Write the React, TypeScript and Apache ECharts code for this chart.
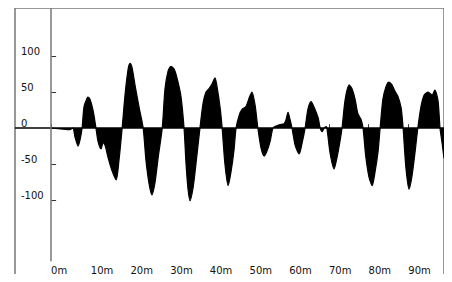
import React, { useEffect, useRef } from "react";
import * as echarts from "echarts";

// distance along the record (m) and amplitude
const distance = [
  0, 2.3, 4.8, 5.5, 6.0, 6.8, 7.3, 7.8, 8.3, 9.1, 9.3, 9.8, 10.6, 11.3, 11.8, 12.6, 13.1, 13.6, 14.4,
  15.4, 16.4, 17.1, 17.9, 18.6, 19.4, 19.9, 20.4, 21.2, 22.2, 23.2, 23.9, 24.7, 25.4, 26.2, 27.0,
  28.0, 28.7, 29.5, 30.2, 31.0, 31.7, 32.7, 33.5, 34.0, 34.5, 35.0, 35.8, 36.5, 37.5, 38.3, 39.0,
  39.8, 40.6, 41.3, 41.8, 42.6, 43.1, 43.8, 44.6, 45.3, 46.1, 46.6, 47.4, 48.1, 49.1, 49.9, 50.6,
  51.4, 52.1, 52.9, 53.7, 54.4, 55.2, 55.9, 56.7, 57.7, 58.7, 59.2, 59.7, 60.2, 60.7, 61.5, 62.5,
  63.2, 64.0, 64.7, 65.5, 66.2, 67.3, 67.8, 68.3, 68.8, 69.3, 69.5, 70.3, 71.3, 72.0, 72.8, 73.3,
  74.1, 75.1, 75.8, 76.6, 77.3, 78.1, 78.6, 79.3, 80.1, 80.9, 81.6, 82.4, 82.9, 83.6, 84.4, 85.1,
  85.9, 86.6, 87.4, 88.2, 88.7, 89.4, 90.2, 90.9, 91.7, 92.4, 93.2, 94.0, 95.0, 96.0, 96.7, 97.5,
  98.0, 98.5, 99.0,
];
const amplitude = [
  0, -1, -2, 0, -12, -25, -16, 0, 30, 42, 43, 40, 24, 0, -18, -29, -20, -24, -42,
  -60, -72, -45, 0, 45, 82, 90, 84, 58, 28, 0, -45, -78, -93, -75, -40,
  0, 55, 80, 86, 82, 70, 45, 0, -50, -85, -101, -82, -50, 0, 35, 50,
  55, 62, 70, 58, 28, 0, -50, -80, -62, -30, 0, 18, 26, 30, 42, 50,
  32, 0, -28, -39, -32, -18, 0, 3, 5, 6, 12, 22, 12, 0, -24, -36,
  -22, 0, 26, 37, 30, 14, 0, -5, 0, 2, 0, -35, -57, -42, -18, 0,
  40, 60, 55, 40, 20, 12, 0, -40, -68, -80, -62, -32, 0, 40, 58, 64,
  60, 52, 44, 28, 0, -55, -85, -68, -34, 0, 30, 46, 50, 46, 53, 38,
  0, -20, -42,
];

const xTicks = [0, 10, 20, 30, 40, 50, 60, 70, 80, 90];
const yTicks = [-100, -50, 0, 50, 100];
const xRange = [-9.1, 99];
const yRange = [-214, 167];
const yAxisLineTop = 167;
const yAxisLineBottom = -185;

export default function App() {
  const ref = useRef<HTMLDivElement>(null);
  useEffect(() => {
    if (!ref.current) return;
    const chart = echarts.init(ref.current, undefined, { renderer: "svg" });
    const font = "DejaVu Sans";
    chart.setOption({
      animation: false,
      backgroundColor: "#fff",
      grid: { left: 15, right: 8, top: 8, bottom: 0 },
      xAxis: {
        type: "value",
        min: xRange[0],
        max: xRange[1],
        axisLine: { show: false },
        splitLine: { show: false },
        axisTick: {
          show: true,
          inside: true,
          length: 4,
          customValues: xTicks,
          lineStyle: { color: "#444", width: 1 },
        },
        axisLabel: {
          inside: true,
          margin: 7,
          align: "left",
          customValues: xTicks,
          formatter: (v: number) => `${v}m`,
          color: "#111",
          fontFamily: font,
          fontSize: 10,
        },
      },
      yAxis: {
        type: "value",
        min: yRange[0],
        max: yRange[1],
        axisLine: { show: false },
        splitLine: { show: false },
        axisTick: {
          show: true,
          inside: true,
          length: 5,
          customValues: yTicks,
          lineStyle: { color: "#333", width: 1 },
        },
        axisLabel: {
          inside: true,
          margin: 6,
          verticalAlign: "bottom",
          customValues: yTicks,
          color: "#111",
          fontFamily: font,
          fontSize: 10,
        },
      },
      graphic: [
        {
          type: "rect",
          shape: { x: 15, y: 8, width: 429, height: 290 },
          style: { fill: "none", stroke: "#777", lineWidth: 1.5 },
          silent: true,
        },
      ],
      series: [
        {
          type: "line",
          data: distance.map((d, i) => [d, amplitude[i]]),
          showSymbol: false,
          smooth: 0.25,
          clip: false,
          lineStyle: { color: "#000", width: 1.2 },
          areaStyle: { color: "#000", opacity: 1, origin: "auto" },
          markLine: {
            silent: true,
            symbol: "none",
            label: { show: false },
            animation: false,
            data: [
              { yAxis: 0, lineStyle: { color: "#000", width: 1.5, type: "solid" } },
              [
                { coord: [0, yAxisLineTop], lineStyle: { color: "#777", width: 1.5, type: "solid" } },
                { coord: [0, yAxisLineBottom] },
              ],
            ],
          },
        },
      ],
    });
    return () => chart.dispose();
  }, []);
  return <div ref={ref} style={{ width: 452, height: 282, margin: -8 }} />;
}
